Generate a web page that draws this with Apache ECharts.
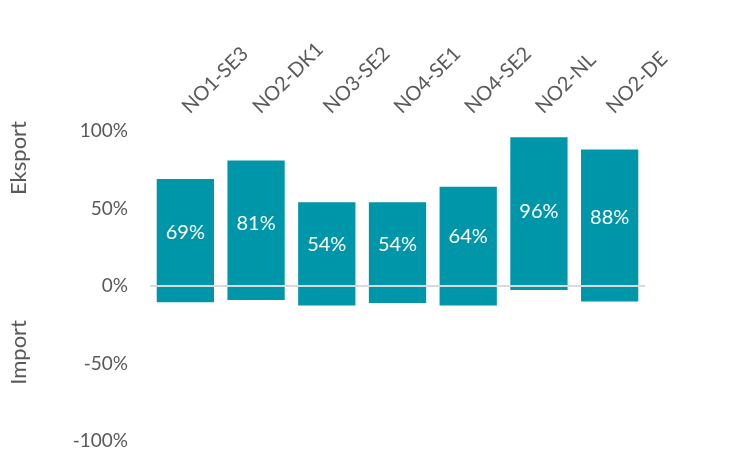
<!DOCTYPE html>
<html>
<head>
<meta charset="utf-8">
<script src="https://cdn.jsdelivr.net/npm/echarts@6/dist/echarts.min.js"></script>
<style>
  html, body { margin: 0; padding: 0; background: #ffffff; }
  #chart { width: 750px; height: 454px; }
</style>
</head>
<body>
<div id="chart"></div>
<script>
// Interconnector flow shares (percent of hours)
const categories = ['NO1-SE3', 'NO2-DK1', 'NO3-SE2', 'NO4-SE1', 'NO4-SE2', 'NO2-NL', 'NO2-DE'];
const exportShare = [69, 81, 54, 54, 64, 96, 88];
const importShare = [-10.5, -9, -12.5, -11, -12.5, -2.5, -10];
const yTicks = { min: -100, max: 100, step: 50 };

const FONT = 'Lato, "Open Sans", sans-serif';
const TEAL = '#0096a9';
const GREY = '#595959';

const chart = echarts.init(document.getElementById('chart'), null, { renderer: 'canvas' });

chart.setOption({
  animation: false,
  backgroundColor: '#ffffff',
  grid: { left: 150, right: 105, top: 131, bottom: 13 },
  xAxis: {
    type: 'category',
    data: categories,
    position: 'top',
    axisLine: { show: false, onZero: false },
    axisTick: { show: false },
    axisLabel: {
      rotate: -45,
      margin: 21,
      color: GREY,
      fontFamily: FONT,
      fontSize: 20
    }
  },
  yAxis: {
    type: 'value',
    min: yTicks.min,
    max: yTicks.max,
    interval: yTicks.step,
    splitLine: { show: false },
    axisLine: { show: false },
    axisTick: { show: false },
    axisLabel: {
      margin: 22,
      color: GREY,
      fontFamily: FONT,
      fontSize: 19,
      formatter: v => v + '%'
    }
  },
  graphic: [
    {
      type: 'text', left: 8, top: 121, rotation: Math.PI / 2,
      style: { text: 'Eksport', fill: GREY, font: '22px ' + FONT }
    },
    {
      type: 'text', left: 8, top: 320, rotation: Math.PI / 2,
      style: { text: 'Import', fill: GREY, font: '22px ' + FONT }
    }
  ],
  series: [
    {
      name: 'Eksport',
      type: 'bar',
      stack: 'flow',
      data: exportShare,
      barCategoryGap: '19%',
      itemStyle: { color: TEAL },
      label: {
        show: true,
        position: 'inside',
        color: '#ffffff',
        fontFamily: FONT,
        fontSize: 20,
        formatter: p => p.value + '%'
      },
      markLine: {
        silent: true,
        symbol: 'none',
        label: { show: false },
        lineStyle: { color: '#d9d9d9', width: 2, type: 'solid' },
        data: [{ yAxis: 0 }]
      }
    },
    {
      name: 'Import',
      type: 'bar',
      stack: 'flow',
      data: importShare,
      barCategoryGap: '19%',
      itemStyle: { color: TEAL }
    }
  ]
});
</script>
</body>
</html>
